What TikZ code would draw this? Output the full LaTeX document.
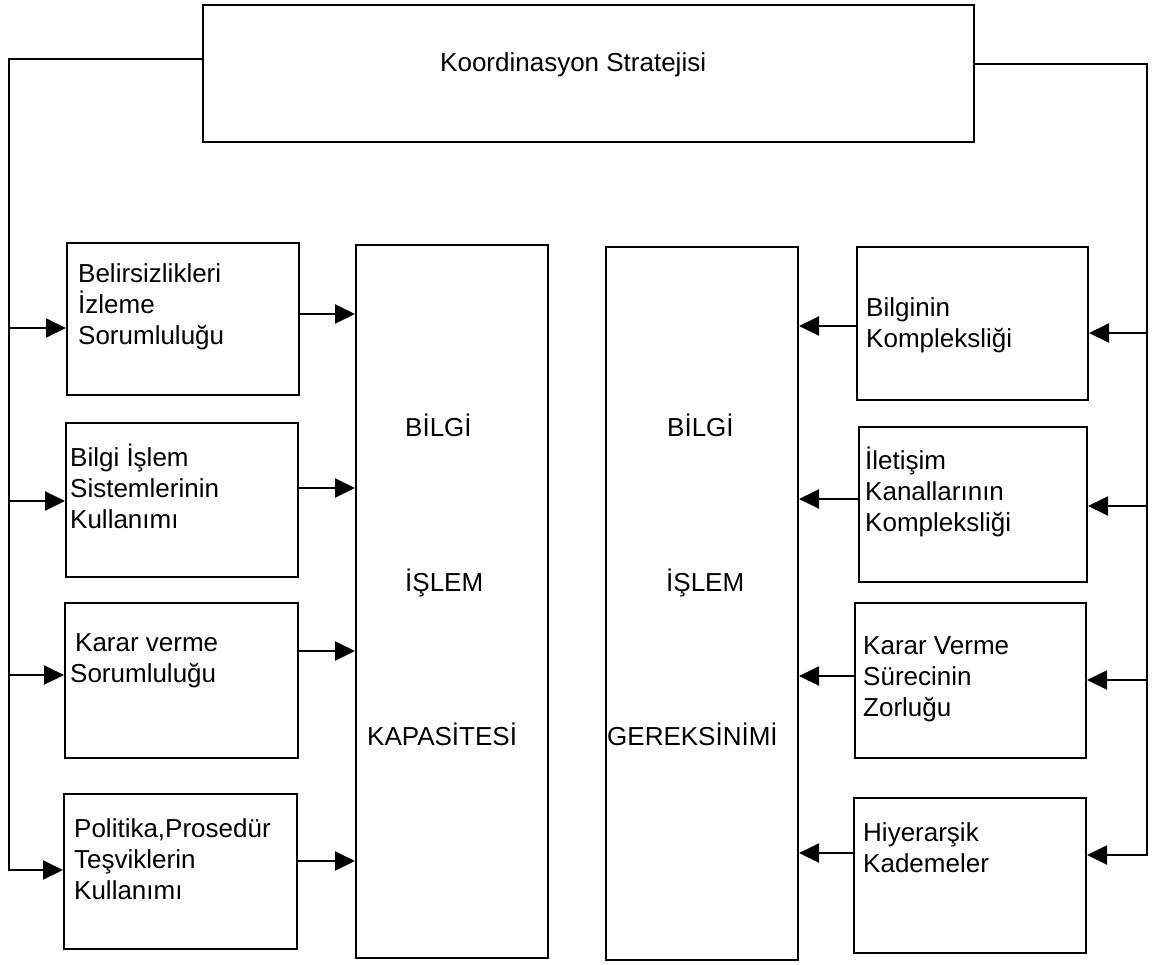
\documentclass[tikz,border=0pt]{standalone}
\usepackage{fontspec}
\setmainfont{Liberation Sans}
\usetikzlibrary{arrows.meta}
\begin{document}
\begin{tikzpicture}[x=1pt,y=-1pt,
  box/.style={draw,line width=2pt,inner sep=0pt},
  lbl/.style={anchor=north west,inner sep=0pt,align=left,font=\fontsize{26}{31}\selectfont},
  word/.style={anchor=base west,inner sep=0pt,font=\fontsize{26}{31}\selectfont},
  wire/.style={line width=2pt},
  arr/.style={line width=2pt,-{Triangle[length=20pt,width=19pt]}}]
\useasboundingbox (0,0) rectangle (1158,964);

% strategy box
\node[box,minimum width=771pt,minimum height=137pt] (ks) at (588.5,73.5) {};
\node[word] (kst) at (440,71) {Koordinasyon Stratejisi};

% left column
\node[box,minimum width=232pt,minimum height=152pt] (l1) at (183,319) {};
\node[box,minimum width=232pt,minimum height=154pt] (l2) at (182,500) {};
\node[box,minimum width=233pt,minimum height=155pt] (l3) at (181.5,680.5) {};
\node[box,minimum width=233pt,minimum height=155pt] (l4) at (180.5,871.5) {};
\node[lbl] (l1t) at (78,256) {\rule{0pt}{26pt}Belirsizlikleri\\İzleme\\Sorumluluğu};
\node[lbl] (l2t) at (70,440) {\rule{0pt}{26pt}Bilgi İşlem\\Sistemlerinin\\Kullanımı};
\node[lbl] (l3t) at (70,625) {\rule{0pt}{26pt}\hspace*{5pt}Karar verme\\Sorumluluğu};
\node[lbl] (l4t) at (74,811) {\rule{0pt}{26pt}Politika,Prosedür\\Teşviklerin\\Kullanımı};

% right column
\node[box,minimum width=231pt,minimum height=153pt] (r1) at (972.5,323.5) {};
\node[box,minimum width=228pt,minimum height=155pt] (r2) at (973,504.5) {};
\node[box,minimum width=231pt,minimum height=155pt] (r3) at (970.5,680.5) {};
\node[box,minimum width=232pt,minimum height=155pt] (r4) at (970,875.5) {};
\node[lbl] (r1t) at (866,290) {\rule{0pt}{26pt}Bilginin\\Kompleksliği};
\node[lbl] (r2t) at (865,443) {\rule{0pt}{26pt}İletişim\\Kanallarının\\Kompleksliği};
\node[lbl] (r3t) at (863,628) {\rule{0pt}{26pt}Karar Verme\\Sürecinin\\Zorluğu};
\node[lbl] (r4t) at (863,815) {\rule{0pt}{26pt}Hiyerarşik\\Kademeler};

% capacity and requirement columns
\node[box,minimum width=192pt,minimum height=713pt] (cap) at (452,601.5) {};
\node[box,minimum width=192pt,minimum height=713pt] (req) at (702,603.5) {};
\node[word] (c1) at (405,436) {BİLGİ};
\node[word] (c2) at (405,591) {İŞLEM};
\node[word] (c3) at (367,745) {KAPASİTESİ};
\node[word] (q1) at (667,436) {BİLGİ};
\node[word] (q2) at (666,591) {İŞLEM};
\node[word] (q3) at (607,745) {GEREKSİNİMİ};

% left distribution line
\coordinate (lbot) at (9,870);
\draw[arr] (ks.west |- 0,59) -| (lbot) -- (lbot -| l4.west);
\foreach \n/\y in {1/328,2/501,3/675}{
  \coordinate (lt\n) at (9,\y);
  \draw[arr] (lt\n) -- (lt\n -| l\n.west);
}

% right distribution line
\coordinate (rbot) at (1147,855);
\draw[arr] (ks.east |- 0,64) -| (rbot) -- (rbot -| r4.east);
\foreach \n/\y in {1/333,2/506,3/680}{
  \coordinate (rt\n) at (1147,\y);
  \draw[arr] (rt\n) -- (rt\n -| r\n.east);
}

% left boxes into capacity
\foreach \n/\y in {1/314,2/488,3/651,4/861}{
  \coordinate (lo\n) at (l\n.east |- 0,\y);
  \draw[arr] (lo\n) -- (lo\n -| cap.west);
}

% right boxes into requirement
\foreach \n/\y in {1/326,2/499,3/676,4/853}{
  \coordinate (ro\n) at (r\n.west |- 0,\y);
  \draw[arr] (ro\n) -- (ro\n -| req.east);
}
\end{tikzpicture}
\end{document}
